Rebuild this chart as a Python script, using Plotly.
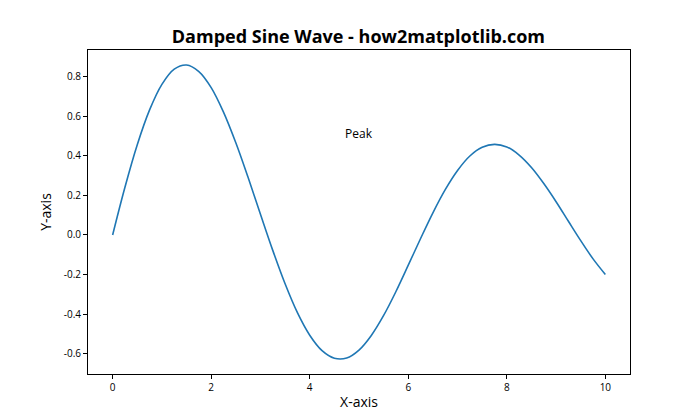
import plotly.graph_objects as go

x_vals = [0, 0.25, 0.5, 0.75, 1.0, 1.25, 1.5, 1.75, 2.0, 2.25, 2.5, 2.75, 3.0, 3.25, 3.5, 3.75,
          4.0, 4.25, 4.5, 4.75, 5.0, 5.25, 5.5, 5.75, 6.0, 6.25, 6.5, 6.75, 7.0, 7.25, 7.5, 7.75,
          8.0, 8.25, 8.5, 8.75, 9.0, 9.25, 9.5, 9.75, 10.0]
y_vals = [0.0, 0.241, 0.456, 0.632, 0.761, 0.838, 0.859, 0.826, 0.745, 0.621, 0.466, 0.290,
          0.105, -0.078, -0.247, -0.393, -0.507, -0.585, -0.623, -0.622, -0.582, -0.508, -0.407,
          -0.286, -0.153, -0.018, 0.112, 0.229, 0.326, 0.399, 0.443, 0.458, 0.445, 0.404, 0.341,
          0.260, 0.168, 0.069, -0.029, -0.121, -0.200]

x_ticks = [0, 2, 4, 6, 8, 10]
y_ticks = [-0.6, -0.4, -0.2, 0.0, 0.2, 0.4, 0.6, 0.8]
y_tick_labels = ["-0.6", "-0.4", "-0.2", "0.0", "0.2", "0.4", "0.6", "0.8"]

title_text = "Damped Sine Wave - how2matplotlib.com"
annot_text = "Peak"
annot_x, annot_y = 5, 0.515

font = "Open Sans"

fig = go.Figure()
fig.add_trace(go.Scatter(x=x_vals, y=y_vals, mode="lines", line=dict(color="#1f77b4", width=1.6, shape="spline"),
                         showlegend=False))

fig.add_annotation(x=annot_x, y=annot_y, text=annot_text, showarrow=False,
                   font=dict(family=font, size=12, color="black"), xanchor="center", yanchor="middle")

axis_common = dict(showgrid=False, zeroline=False, showline=True, linecolor="black", linewidth=1,
                   mirror=True, ticks="outside", ticklen=4, tickcolor="black", tickwidth=1,
                   tickfont=dict(family=font, size=10, color="black"))

fig.update_layout(
    width=700, height=420,
    margin=dict(l=88, r=70, t=50, b=46),
    paper_bgcolor="white", plot_bgcolor="white",
    title=dict(text="<b>" + title_text + "</b>", x=0.512, xanchor="center", y=0.912, yanchor="middle",
               font=dict(family=font, size=18, color="black")),
    xaxis=dict(range=[-0.5, 10.5], tickvals=x_ticks, ticktext=[str(v) for v in x_ticks],
               title=dict(text="X-axis", font=dict(family=font, size=14, color="black"), standoff=4),
               **axis_common),
    yaxis=dict(range=[-0.703, 0.935], tickvals=y_ticks, ticktext=y_tick_labels,
               title=dict(text="Y-axis", font=dict(family=font, size=14, color="black"), standoff=8),
               **axis_common),
)

fig.write_html("out.html")
